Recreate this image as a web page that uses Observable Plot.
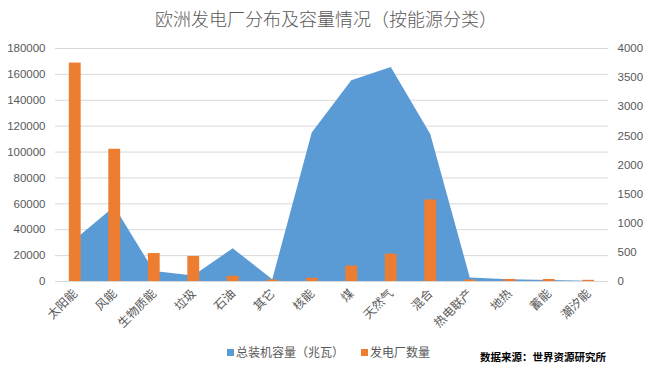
<!DOCTYPE html>
<html><head><meta charset="utf-8">
<script src="https://cdn.jsdelivr.net/npm/d3@7"></script>
<script src="https://cdn.jsdelivr.net/npm/@observablehq/plot@0.6"></script>
<style>
body{margin:0;background:#fff;font-family:"Noto Sans CJK SC","Noto Sans",sans-serif;}
#wrap{width:652px;height:375px;position:relative;overflow:hidden;background:#fff}
#title{position:absolute;top:5px;left:0;width:652px;text-align:center;font-size:18px;font-weight:300;color:#595959;line-height:26px}
#chart{position:absolute;top:36px;left:0}
.leg{position:absolute;top:343px;font-size:12px;color:#595959;line-height:18px;white-space:nowrap}
.sw{display:inline-block;width:7px;height:7px;margin-right:2px;vertical-align:1px}
#cap{position:absolute;top:349px;left:480px;font-size:10.5px;font-weight:bold;color:#000;white-space:nowrap}
</style></head>
<body><div id="wrap">
<div id="title">欧洲发电厂分布及容量情况（按能源分类）</div>
<div id="chart"></div>
<div class="leg" style="left:227px"><span class="sw" style="background:#5B9BD5"></span>总装机容量（兆瓦）</div>
<div class="leg" style="left:361px"><span class="sw" style="background:#ED7D31"></span>发电厂数量</div>
<div id="cap">数据来源：世界资源研究所</div>
</div>
<script>
const categories = ["太阳能","风能","生物质能","垃圾","石油","其它","核能","煤","天然气","混合","热电联产","地热","蓄能","潮汐能"];
const capacity = [32000,57500,7800,4200,25300,1300,114800,155000,165300,113500,2800,1300,800,200];
const plants = [3750,2270,480,430,90,25,55,265,470,1400,25,35,35,20];
const leftTicks = [0,20000,40000,60000,80000,100000,120000,140000,160000,180000];
const rightTicks = [0,500,1000,1500,2000,2500,3000,3500,4000];
const leftMax = 180000, rightMax = 4000;
const ratio = leftMax / rightMax;
const rows = categories.map((c, i) => ({i, c, cap: capacity[i], n: plants[i]}));
const font = "'Noto Sans CJK SC','Liberation Sans',sans-serif";

const chart = Plot.plot({
  width: 652, height: 300,
  marginLeft: 55, marginRight: 44, marginTop: 12, marginBottom: 55,
  style: {fontFamily: font, color: "#595959", background: "transparent", overflow: "visible"},
  x: {type: "linear", domain: [-0.5, categories.length - 0.5]},
  y: {domain: [0, leftMax]},
  marks: [
    Plot.gridY(leftTicks, {stroke: "#d9d9d9", strokeOpacity: 1}),
    Plot.areaY(rows, {x: "i", y: "cap", fill: "#5B9BD5"}),
    Plot.rectY(rows, {x1: d => d.i - 0.15, x2: d => d.i + 0.15, y: d => d.n * ratio, fill: "#ED7D31"}),
    Plot.axisY(leftTicks, {anchor: "left", tickSize: 0, tickPadding: 10, label: null, tickFormat: d => String(d), fontSize: 11.5, fontFamily: "'Liberation Sans',sans-serif"}),
    Plot.axisY(rightTicks.map(v => v * ratio), {anchor: "right", tickSize: 0, tickPadding: 9, label: null, tickFormat: d => String(Math.round(d / ratio)), fontSize: 11.5, fontFamily: "'Liberation Sans',sans-serif"}),
    Plot.axisX(d3.range(categories.length), {anchor: "bottom", tickSize: 0, tickPadding: 10, tickRotate: -45, label: null, tickFormat: i => categories[i], fontSize: 12})
  ]
});
document.getElementById("chart").appendChild(chart);
</script>
</body></html>
